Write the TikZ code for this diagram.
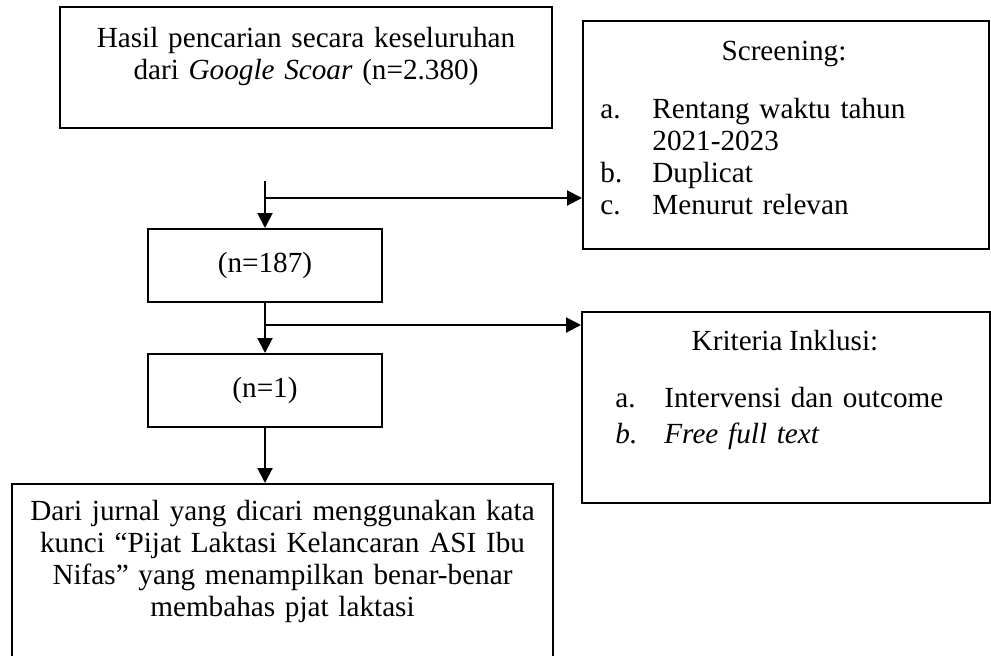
\documentclass[tikz,border=0pt]{standalone}
\usepackage{fontspec}
\setmainfont{Liberation Serif}[WordSpace=0.9]
\usetikzlibrary{arrows.meta}

\begin{document}
\begin{tikzpicture}[x=0.5pt,y=-0.5pt,
        kotak/.style={draw,thick,line width=1pt,rectangle,inner sep=0pt},
        teks/.style={font=\fontsize{14.6}{16}\selectfont,inner sep=0pt},
        panah/.style={-{Triangle[length=7.5pt,width=7.5pt]},line width=1pt}]
            \useasboundingbox (0,0) rectangle (991,655);

            \begin{scope}[every node/.style={kotak}]
                \node[minimum width=246pt,minimum height=60.5pt] (hasil) at (306,67.5) {};
                \node[minimum width=203pt,minimum height=114pt] (screen) at (786,135) {};
                \node[minimum width=117pt,minimum height=36.5pt,teks] (n187) at (265,265.5) {(n=187)};
                \node[minimum width=117pt,minimum height=36.5pt,teks] (n1) at (265,390.5) {(n=1)};
                \node[minimum width=204pt,minimum height=95.5pt] (kriteria) at (786,407.5) {};
                \node[minimum width=270.5pt,minimum height=93pt] (jurnal) at (282.5,577) {};
            \end{scope}

            \begin{scope}[every node/.style={teks}]
                \node[anchor=base,text width=240pt,align=center] (thasil) at (306,47)
                    {Hasil pencarian secara keseluruhan\\ dari \textit{Google Scoar} (n=2.380)};
                \node[anchor=base] (tscreen) at (784,60) {Screening:};
                \node[anchor=base west,text width=190pt,align=left] (lscreen) at (600,118)
                    {\makebox[26pt][l]{a.}Rentang waktu tahun\\
                     \hspace*{26pt}2021-2023\\
                     \makebox[26pt][l]{b.}Duplicat\\
                     \makebox[26pt][l]{c.}Menurut relevan};
                \node[anchor=base] (tkriteria) at (785,350) {Kriteria Inklusi:};
                \node[anchor=base west,text width=185pt,align=left] (lkriteria) at (615,407)
                    {\makebox[24.5pt][l]{a.}Intervensi dan outcome\\[2pt]
                     \textit{\makebox[24.5pt][l]{b.}Free full text}};
                \node[anchor=base,text width=265pt,align=center] (tjurnal) at (282.5,520)
                    {Dari jurnal yang dicari menggunakan kata\\
                     kunci ``Pijat Laktasi Kelancaran ASI Ibu\\
                     Nifas'' yang menampilkan benar-benar\\
                     membahas pjat laktasi};
            \end{scope}

            \coordinate (awal) at (265,181);
            \coordinate (cab1) at (265,198);
            \coordinate (cab2) at (265,325);

            \begin{scope}
                \draw[line width=1pt] (awal) -- (cab1);
                \draw[panah] (cab1) -- (n187.north);
                \draw[panah] (cab1) -- (cab1 -| screen.west);
                \draw[panah] (n187.south) -- (n1.north);
                \draw[panah] (cab2) -- (cab2 -| kriteria.west);
                \draw[panah] (n1.south) -- (n1.south |- jurnal.north);
            \end{scope}
\end{tikzpicture}
\end{document}
